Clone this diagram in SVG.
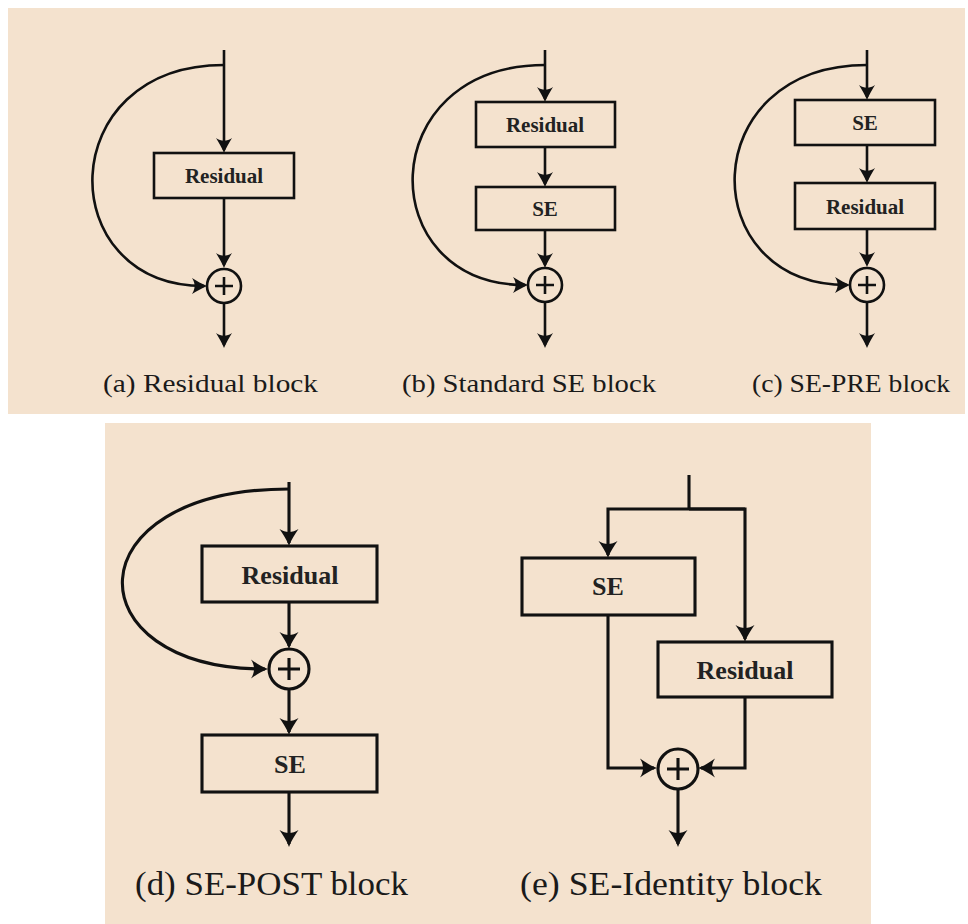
<svg xmlns="http://www.w3.org/2000/svg" width="968" height="924" viewBox="0 0 968 924">
<style>
.bg{fill:#F4E2CE}
.ln{fill:none;stroke:#111;stroke-width:2.6}
.lnb{fill:none;stroke:#111;stroke-width:3.1}
.box{fill:none;stroke:#111;stroke-width:2.6}
.boxb{fill:none;stroke:#111;stroke-width:3.1}
.lbl{font-family:"Liberation Serif",serif;font-weight:bold;font-size:21px;fill:#222;text-anchor:middle}
.lblb{font-family:"Liberation Serif",serif;font-weight:bold;font-size:26px;fill:#222;text-anchor:middle}
.cap{font-family:"Liberation Serif",serif;font-size:26px;fill:#1a1a1a}
.capb{font-family:"Liberation Serif",serif;font-size:33px;fill:#1a1a1a}
.a{marker-end:url(#arr)}
.ab{marker-end:url(#arrb)}
</style>
<defs>
<marker id="arr" markerUnits="userSpaceOnUse" viewBox="-15 -9 19 18" markerWidth="19" markerHeight="18" refX="0" refY="0" orient="auto" overflow="visible">
<path d="M3,0 C-2,-2 -7,-5 -12,-8 C-8.5,-3 -8.5,3 -12,8 C-7,5 -2,2 3,0 Z" fill="#111"/>
</marker>
<marker id="arrb" markerUnits="userSpaceOnUse" viewBox="-17 -10 21 20" markerWidth="21" markerHeight="20" refX="0" refY="0" orient="auto" overflow="visible">
<path d="M3,0 C-3,-2 -9,-6 -14,-9.5 C-10,-3.5 -10,3.5 -14,9.5 C-9,6 -3,2 3,0 Z" fill="#111"/>
</marker>
</defs>
<rect class="bg" x="8" y="8" width="957" height="406"/>
<rect class="bg" x="105" y="423" width="766" height="501"/>

<g id="connectors">
  <!-- (a) -->
  <path class="ln a" d="M224,50 V150"/>
  <path class="ln a" d="M224,198 V265"/>
  <path class="ln a" d="M224,65 C52,65 52,286 204,286"/>
  <path class="ln a" d="M224,304 V345"/>
  <!-- (b) -->
  <path class="ln a" d="M545,50 V99"/>
  <path class="ln a" d="M545,147 V184"/>
  <path class="ln a" d="M545,230 V265"/>
  <path class="ln a" d="M545,65 C372,65 372,285 525,285"/>
  <path class="ln a" d="M545,302 V345"/>
  <!-- (c) -->
  <path class="ln a" d="M867,50 V97"/>
  <path class="ln a" d="M867,145 V180"/>
  <path class="ln a" d="M867,229 V264"/>
  <path class="ln a" d="M867,65 C694,65 694,285 847,285"/>
  <path class="ln a" d="M867,302 V345"/>
  <!-- (d) -->
  <path class="lnb ab" d="M289,482 V543"/>
  <path class="lnb ab" d="M289,602 V646"/>
  <path class="lnb ab" d="M289,489 C71,489 71,669 265,669"/>
  <path class="lnb ab" d="M289,689 V732"/>
  <path class="lnb ab" d="M289,792 V844"/>
  <!-- (e) -->
  <path class="lnb" d="M689,475 V509"/>
  <path class="lnb ab" d="M745,509 H608 V555"/>
  <path class="lnb ab" d="M689,509 H745 V639"/>
  <path class="lnb ab" d="M608,615 V768 H654"/>
  <path class="lnb ab" d="M745,697 V768 H701"/>
  <path class="lnb ab" d="M678,789 V844"/>
</g>

<g id="a-residual"><rect class="box" x="154" y="153" width="140" height="45"/><text class="lbl" x="224" y="183">Residual</text></g>
<g id="a-sum"><circle class="ln" cx="224" cy="286" r="17"/><path class="ln" d="M215,286 H233 M224,277 V295"/></g>
<g id="a-caption"><text class="cap" x="103" y="392" textLength="215" lengthAdjust="spacingAndGlyphs">(a)  Residual block</text></g>

<g id="b-residual"><rect class="box" x="476" y="102" width="139" height="45"/><text class="lbl" x="545" y="132">Residual</text></g>
<g id="b-se"><rect class="box" x="476" y="187" width="139" height="43"/><text class="lbl" x="545" y="216">SE</text></g>
<g id="b-sum"><circle class="ln" cx="545" cy="285" r="17"/><path class="ln" d="M536,285 H554 M545,276 V294"/></g>
<g id="b-caption"><text class="cap" x="402" y="392" textLength="254" lengthAdjust="spacingAndGlyphs">(b)  Standard SE block</text></g>

<g id="c-se"><rect class="box" x="795" y="100" width="140" height="45"/><text class="lbl" x="865" y="130">SE</text></g>
<g id="c-residual"><rect class="box" x="795" y="183" width="140" height="46"/><text class="lbl" x="865" y="214">Residual</text></g>
<g id="c-sum"><circle class="ln" cx="867" cy="285" r="17"/><path class="ln" d="M858,285 H876 M867,276 V294"/></g>
<g id="c-caption"><text class="cap" x="752" y="392" textLength="198" lengthAdjust="spacingAndGlyphs">(c)  SE-PRE block</text></g>

<g id="d-residual"><rect class="boxb" x="202" y="546" width="175" height="56"/><text class="lblb" x="290" y="584">Residual</text></g>
<g id="d-sum"><circle class="lnb" cx="289" cy="669" r="20"/><path class="lnb" d="M278,669 H300 M289,658 V680"/></g>
<g id="d-se"><rect class="boxb" x="202" y="735" width="175" height="57"/><text class="lblb" x="290" y="773">SE</text></g>
<g id="d-caption"><text class="capb" x="135" y="895" textLength="273" lengthAdjust="spacingAndGlyphs">(d)  SE-POST block</text></g>

<g id="e-se"><rect class="boxb" x="522" y="558" width="173" height="57"/><text class="lblb" x="608" y="595">SE</text></g>
<g id="e-residual"><rect class="boxb" x="658" y="642" width="174" height="55"/><text class="lblb" x="745" y="679">Residual</text></g>
<g id="e-sum"><circle class="lnb" cx="678" cy="769" r="20"/><path class="lnb" d="M667,769 H689 M678,758 V780"/></g>
<g id="e-caption"><text class="capb" x="520" y="895" textLength="302" lengthAdjust="spacingAndGlyphs">(e)  SE-Identity block</text></g>
</svg>
